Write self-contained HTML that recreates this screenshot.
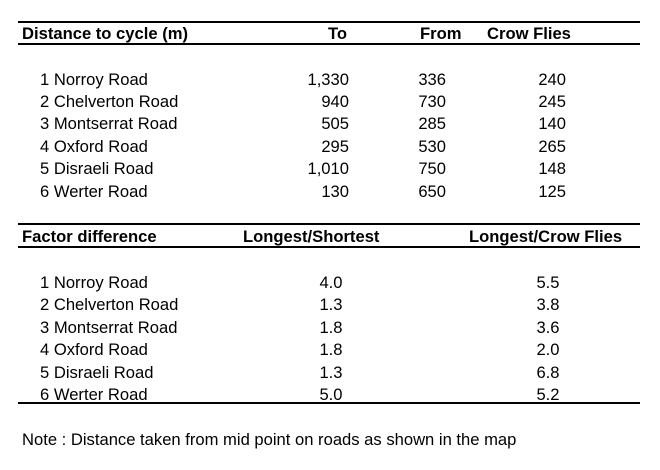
<!DOCTYPE html>
<html><head><style>
body{margin:0;width:660px;height:470px;background:#fff;position:relative;font-family:"Liberation Sans",Arial,sans-serif;font-size:16.6px;color:#000;overflow:hidden}
div{position:absolute;line-height:20px;white-space:nowrap}
.b{font-weight:bold}
.l{position:absolute;left:18px;width:622px;height:2px;background:#000}
.r{text-align:right}
.c{text-align:center}
</style></head><body>
<span class="l" style="top:21px"></span>
<span class="l" style="top:43px"></span>
<div class="b" style="left:22px;top:24px">Distance to cycle (m)</div>
<div class="b" style="left:328px;top:24px">To</div>
<div class="b" style="left:420px;top:24px">From</div>
<div class="b" style="left:487px;top:24px">Crow Flies</div>

<div style="left:40px;top:70px">1 Norroy Road</div>
<div style="left:40px;top:92px">2 Chelverton Road</div>
<div style="left:40px;top:114px">3 Montserrat Road</div>
<div style="left:40px;top:137px">4 Oxford Road</div>
<div style="left:40px;top:159px">5 Disraeli Road</div>
<div style="left:40px;top:182px">6 Werter Road</div>

<div class="r" style="left:249px;width:100px;top:70px">1,330</div>
<div class="r" style="left:249px;width:100px;top:92px">940</div>
<div class="r" style="left:249px;width:100px;top:114px">505</div>
<div class="r" style="left:249px;width:100px;top:137px">295</div>
<div class="r" style="left:249px;width:100px;top:159px">1,010</div>
<div class="r" style="left:249px;width:100px;top:182px">130</div>

<div class="r" style="left:346px;width:100px;top:70px">336</div>
<div class="r" style="left:346px;width:100px;top:92px">730</div>
<div class="r" style="left:346px;width:100px;top:114px">285</div>
<div class="r" style="left:346px;width:100px;top:137px">530</div>
<div class="r" style="left:346px;width:100px;top:159px">750</div>
<div class="r" style="left:346px;width:100px;top:182px">650</div>

<div class="r" style="left:466px;width:100px;top:70px">240</div>
<div class="r" style="left:466px;width:100px;top:92px">245</div>
<div class="r" style="left:466px;width:100px;top:114px">140</div>
<div class="r" style="left:466px;width:100px;top:137px">265</div>
<div class="r" style="left:466px;width:100px;top:159px">148</div>
<div class="r" style="left:466px;width:100px;top:182px">125</div>

<span class="l" style="top:223px"></span>
<span class="l" style="top:246px"></span>
<div class="b" style="left:22px;top:227px">Factor difference</div>
<div class="b" style="left:243px;top:227px">Longest/Shortest</div>
<div class="b" style="left:469px;top:227px">Longest/Crow Flies</div>

<div style="left:40px;top:273px">1 Norroy Road</div>
<div style="left:40px;top:295px">2 Chelverton Road</div>
<div style="left:40px;top:318px">3 Montserrat Road</div>
<div style="left:40px;top:340px">4 Oxford Road</div>
<div style="left:40px;top:363px">5 Disraeli Road</div>
<div style="left:40px;top:385px">6 Werter Road</div>

<div class="c" style="left:281px;width:100px;top:273px">4.0</div>
<div class="c" style="left:281px;width:100px;top:295px">1.3</div>
<div class="c" style="left:281px;width:100px;top:318px">1.8</div>
<div class="c" style="left:281px;width:100px;top:340px">1.8</div>
<div class="c" style="left:281px;width:100px;top:363px">1.3</div>
<div class="c" style="left:281px;width:100px;top:385px">5.0</div>

<div class="c" style="left:498px;width:100px;top:273px">5.5</div>
<div class="c" style="left:498px;width:100px;top:295px">3.8</div>
<div class="c" style="left:498px;width:100px;top:318px">3.6</div>
<div class="c" style="left:498px;width:100px;top:340px">2.0</div>
<div class="c" style="left:498px;width:100px;top:363px">6.8</div>
<div class="c" style="left:498px;width:100px;top:385px">5.2</div>

<span class="l" style="top:402px"></span>
<div style="left:22px;top:430px">Note : Distance taken from mid point on roads as shown in the map</div>
</body></html>
